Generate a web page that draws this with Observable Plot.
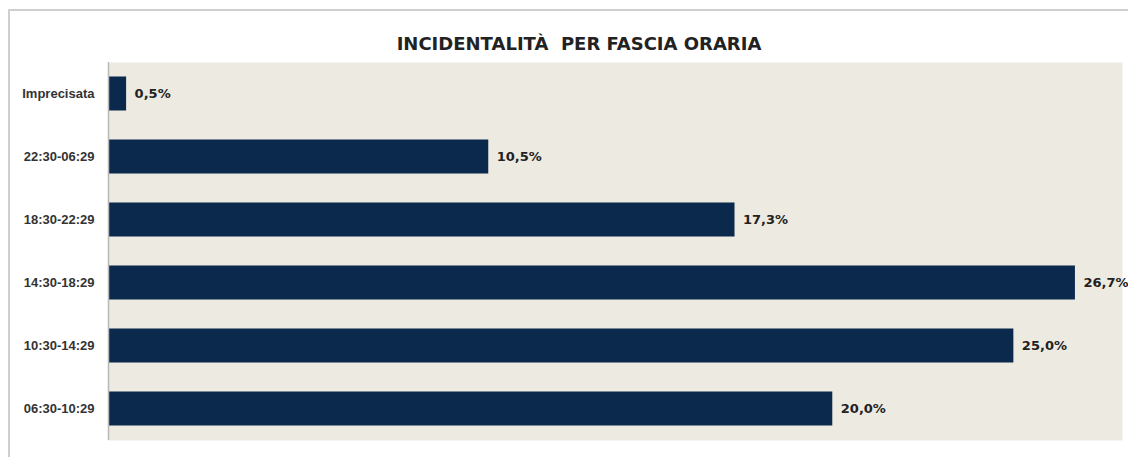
<!DOCTYPE html>
<html>
<head>
<meta charset="utf-8">
<script src="https://cdn.jsdelivr.net/npm/d3@7"></script>
<script src="https://cdn.jsdelivr.net/npm/@observablehq/plot@0.6"></script>
<style>
  html, body { margin: 0; padding: 0; background: #ffffff; }
  #wrap { position: relative; width: 1128px; height: 457px; overflow: hidden; }
  #frame { position: absolute; left: 8px; top: 9px; width: 1130px; height: 460px;
           border-left: 2px solid #cfcfcf; border-top: 2px solid #cfcfcf; box-sizing: border-box; }
  #title { position: absolute; left: 0; width: 1158px; top: 33px; text-align: center;
           font-family: "DejaVu Sans", sans-serif; font-weight: bold; font-size: 18px;
           color: #222222; letter-spacing: 0px; }
  #chart { position: absolute; left: 0; top: 0; }
</style>
</head>
<body>
<div id="wrap">
  <div id="frame"></div>
  <div id="chart"></div>
  <div id="title">INCIDENTALITÀ&nbsp; PER FASCIA ORARIA</div>
</div>
<script>
const categories = ["Imprecisata", "22:30-06:29", "18:30-22:29", "14:30-18:29", "10:30-14:29", "06:30-10:29"];
const values = [0.5, 10.5, 17.3, 26.7, 25.0, 20.0];
const labels = ["0,5%", "10,5%", "17,3%", "26,7%", "25,0%", "20,0%"];

const data = categories.map((c, i) => ({cat: c, value: values[i], label: labels[i]}));

const chart = Plot.plot({
  width: 1128,
  height: 457,
  marginLeft: 108,
  marginRight: 6,
  marginTop: 62,
  marginBottom: 17,
  style: {background: "transparent"},
  x: {domain: [0, 28], axis: null},
  y: {domain: categories, padding: 0, label: null},
  marks: [
    Plot.frame({fill: "#edeae1", stroke: null}),
    Plot.barX(data, {x: "value", y: "cat", fill: "#0b294d", insetTop: 14.5, insetBottom: 14.5}),
    Plot.ruleX([0], {stroke: "#b8b8b8", strokeWidth: 1.5}),
    Plot.text(data, {x: "value", y: "cat", text: "label", textAnchor: "start", dx: 8,
      fill: "#222222", fontWeight: "bold", fontSize: 13, fontFamily: "DejaVu Sans"}),
    Plot.axisY({tickSize: 0, tickPadding: 14, fontWeight: "bold", fontSize: 13,
      fontFamily: "'Liberation Sans Narrow', 'Arial Narrow', sans-serif", fill: "#333333", label: null})
  ]
});
document.getElementById("chart").appendChild(chart);
</script>
</body>
</html>
